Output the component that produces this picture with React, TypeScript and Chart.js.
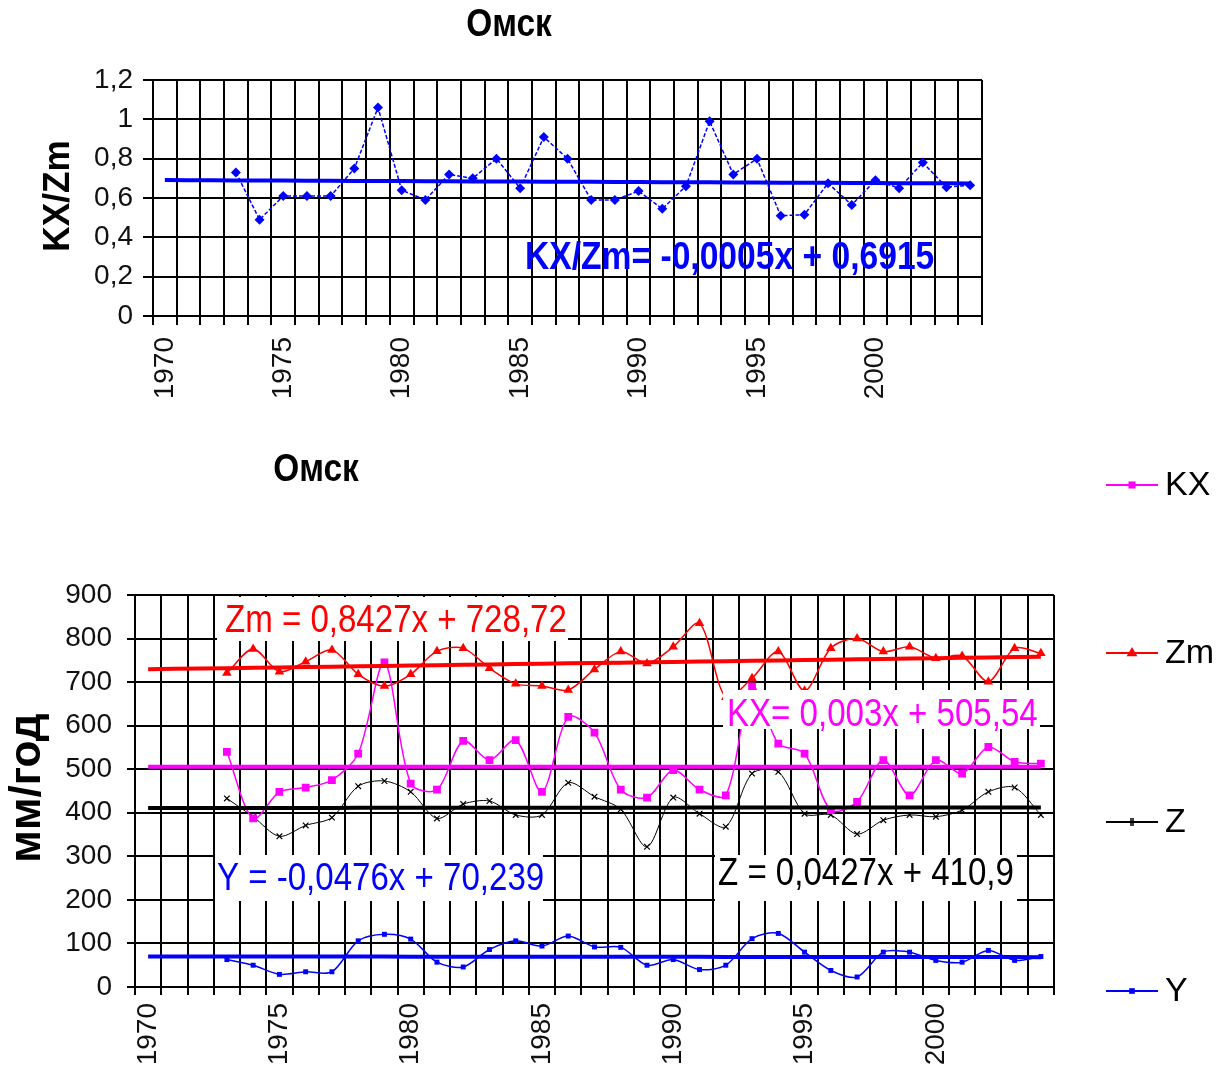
import React, { useEffect, useRef } from 'react';
import { Chart, registerables } from 'chart.js';

Chart.register(...registerables);

const FONT = "'Liberation Sans', Arial, Helvetica, sans-serif";

// ---- data ----
const years = [
  '1970', '1971', '1972', '1973', '1974', '1975', '1976', '1977', '1978', '1979',
  '1980', '1981', '1982', '1983', '1984', '1985', '1986', '1987', '1988', '1989',
  '1990', '1991', '1992', '1993', '1994', '1995', '1996', '1997', '1998', '1999',
  '2000', '2001', '2002', '2003', '2004',
];

const ratioKXZm = [
  null, null, null, 0.73, 0.49, 0.61, 0.61, 0.61, 0.75, 1.06,
  0.64, 0.59, 0.72, 0.70, 0.80, 0.65, 0.91, 0.80, 0.59, 0.59,
  0.635, 0.545, 0.66, 0.99, 0.72, 0.80, 0.51, 0.515, 0.675, 0.565,
  0.69, 0.65, 0.78, 0.655, 0.665,
];

const kx = [
  null, null, null, 540, 387, 448, 458, 475, 536, 745,
  467, 453, 565, 521, 567, 448, 620, 584, 453, 435,
  498, 453, 440, 690, 559, 536, 406, 425, 521, 440,
  521, 490, 551, 517, 513,
];

const zm = [
  null, null, null, 721, 776, 724, 747, 774, 718, 691,
  718, 771, 778, 732, 696, 691, 682, 729, 770, 743,
  781, 835, 665, 709, 770, 680, 778, 800, 770, 781,
  755, 760, 701, 778, 766,
];

const z = [
  null, null, null, 433, 391, 346, 371, 389, 461, 473,
  448, 387, 420, 427, 395, 395, 469, 437, 408, 322,
  435, 398, 368, 490, 494, 398, 395, 351, 383, 395,
  391, 406, 448, 458, 395,
];

const yRunoff = [
  null, null, null, 63, 50, 29, 35, 35, 106, 121,
  110, 57, 46, 86, 106, 94, 117, 92, 91, 50,
  63, 40, 50, 111, 123, 80, 38, 23, 80, 80,
  61, 57, 84, 61, 70,
];

// trend line equations as printed on the chart (x = 1..n)
const ratioTrendCoef = { slope: -0.0005, intercept: 0.6915 };
const kxTrendCoef = { slope: 0.003, intercept: 505.54 };
const zmTrendCoef = { slope: 0.8427, intercept: 728.72 };
const zTrendCoef = { slope: 0.0427, intercept: 410.9 };
const yTrendCoef = { slope: -0.0476, intercept: 70.239 };

const trend = (c: { slope: number; intercept: number }) =>
  years.map((_, i) => c.slope * (i + 1) + c.intercept);

// ---- drawing helpers ----
function drawText(
  ctx: CanvasRenderingContext2D,
  s: string,
  x: number,
  y: number,
  font: string,
  color: string,
  align: CanvasTextAlign = 'left',
  sx = 1,
  rot = 0
) {
  ctx.save();
  ctx.translate(x, y);
  if (rot) ctx.rotate(rot);
  ctx.scale(sx, 1);
  ctx.font = font;
  ctx.fillStyle = color;
  ctx.textAlign = align;
  ctx.textBaseline = 'middle';
  ctx.fillText(s, 0, 0);
  ctx.restore();
}

function drawMarker(ctx: CanvasRenderingContext2D, style: string, x: number, y: number, r: number, color: string) {
  ctx.save();
  ctx.fillStyle = color;
  ctx.strokeStyle = color;
  ctx.lineWidth = 1.5;
  ctx.beginPath();
  if (style === 'rect') {
    const s = r * Math.SQRT1_2;
    ctx.rect(x - s, y - s, 2 * s, 2 * s);
    ctx.fill();
  } else if (style === 'triangle') {
    ctx.moveTo(x, y - r);
    ctx.lineTo(x + r * 0.9, y + r * 0.55);
    ctx.lineTo(x - r * 0.9, y + r * 0.55);
    ctx.closePath();
    ctx.fill();
  } else if (style === 'crossRot') {
    const s = r * 0.8;
    ctx.moveTo(x - 1, y - s);
    ctx.lineTo(x - 1, y + s);
    ctx.moveTo(x + 1, y - s);
    ctx.lineTo(x + 1, y + s);
    ctx.stroke();
  }
  ctx.restore();
}

const fmtComma = (v: number) => String(Math.round(v * 10) / 10).replace('.', ',');

const gridStyle = (tickLength: number) => ({
  color: '#000',
  lineWidth: 2,
  tickLength,
  tickColor: '#000',
  tickWidth: 2,
});

// ---- top chart ----
function topConfig(): any {
  const overlay = {
    id: 'topOverlay',
    afterDatasetsDraw(chart: any) {
      const ctx = chart.ctx as CanvasRenderingContext2D;
      drawText(ctx, 'Омск', 509, 26, `bold 38px ${FONT}`, '#000', 'center', 0.88);
      drawText(ctx, 'KX/Zm', 59, 196, `bold 37px ${FONT}`, '#000', 'center', 0.95, -Math.PI / 2);
      drawText(ctx, 'KX/Zm= -0,0005x + 0,6915', 525, 258, `bold 39px ${FONT}`, '#0000ff', 'left', 0.862);
    },
  };
  return {
    type: 'line',
    data: {
      labels: years,
      datasets: [
        {
          label: 'KX/Zm',
          data: ratioKXZm,
          borderColor: '#0000ff',
          backgroundColor: '#0000ff',
          borderWidth: 1.5,
          borderDash: [4, 2],
          pointStyle: 'rectRot',
          pointRadius: 5,
          pointBorderWidth: 0,
          tension: 0,
          order: 1,
        },
        {
          label: 'trend',
          data: trend(ratioTrendCoef),
          borderColor: '#0000ff',
          borderWidth: 4,
          pointRadius: 0,
          tension: 0,
          order: 0,
        },
      ],
    },
    options: {
      responsive: false,
      animation: false,
      events: [],
      layout: { padding: { left: 0, top: 80, right: 237, bottom: 0 } },
      plugins: { legend: { display: false }, tooltip: { enabled: false }, title: { display: false } },
      scales: {
        x: {
          type: 'category',
          offset: true,
          grid: { ...gridStyle(9), offset: true },
          border: { display: true, color: '#000', width: 2 },
          ticks: {
            autoSkip: false,
            maxRotation: 90,
            minRotation: 90,
            padding: 12,
            color: '#111',
            font: { family: FONT, size: 28 },
            callback: (_v: any, i: number) => (Number(years[i]) % 5 === 0 ? years[i] : ''),
          },
          afterFit: (s: any) => {
            s.height = 114;
          },
        },
        y: {
          min: 0,
          max: 1.2,
          grid: gridStyle(10),
          border: { display: true, color: '#000', width: 2 },
          ticks: {
            stepSize: 0.2,
            padding: 10,
            color: '#111',
            font: { family: FONT, size: 28 },
            callback: (v: any) => fmtComma(Number(v)),
          },
          afterFit: (s: any) => {
            s.width = 153;
          },
        },
      },
    },
    plugins: [overlay],
  };
}

// ---- bottom chart ----
const legendItems = [
  { label: 'KX', color: '#ff00ff', style: 'rect', r: 5, y: 55 },
  { label: 'Zm', color: '#ff0000', style: 'triangle', r: 6, y: 223 },
  { label: 'Z', color: '#000000', style: 'crossRot', r: 5, y: 392 },
  { label: 'Y', color: '#0000ff', style: 'rect', r: 4, y: 561 },
];

const eqLabels = [
  { text: 'Zm = 0,8427x + 728,72', color: '#ff0000', box: [217, 167, 351, 44], tx: 225, ty: 192 },
  { text: 'KX= 0,003x + 505,54', color: '#ff00ff', box: [723, 260, 317, 39], tx: 727, ty: 286 },
  { text: 'Y = -0,0476x + 70,239', color: '#0000ff', box: [215, 425, 328, 46], tx: 217, ty: 450 },
  { text: 'Z = 0,0427x + 410,9', color: '#000000', box: [715, 425, 302, 46], tx: 718, ty: 445 },
];

function bottomConfig(): any {
  const overlay = {
    id: 'bottomOverlay',
    afterDatasetsDraw(chart: any) {
      const ctx = chart.ctx as CanvasRenderingContext2D;
      eqLabels.forEach((l) => {
        ctx.save();
        ctx.fillStyle = '#fff';
        ctx.fillRect(l.box[0], l.box[1], l.box[2], l.box[3]);
        ctx.restore();
        drawText(ctx, l.text, l.tx, l.ty, `38px ${FONT}`, l.color, 'left', 0.87);
      });
      drawText(ctx, 'Омск', 316, 41, `bold 38px ${FONT}`, '#000', 'center', 0.88);
      drawText(ctx, 'мм/год', 28, 358, `bold 44px ${FONT}`, '#000', 'center', 1, -Math.PI / 2);
      legendItems.forEach((it) => {
        ctx.save();
        ctx.strokeStyle = it.color;
        ctx.lineWidth = 2;
        ctx.beginPath();
        ctx.moveTo(1106, it.y);
        ctx.lineTo(1158, it.y);
        ctx.stroke();
        ctx.restore();
        drawMarker(ctx, it.style, 1132, it.y, it.r, it.color);
        drawText(ctx, it.label, 1165, it.y + 1, `34px ${FONT}`, '#000', 'left');
      });
    },
  };
  const series = (label: string, data: any[], color: string, pointStyle: string, r: number, width: number, extra: any = {}) => ({
    label,
    data,
    borderColor: color,
    backgroundColor: color,
    borderWidth: width,
    pointStyle,
    pointRadius: r,
    pointBorderWidth: 0,
    tension: 0.3,
    order: 1,
    ...extra,
  });
  const trendSet = (label: string, data: number[], color: string) => ({
    label,
    data,
    borderColor: color,
    borderWidth: 4,
    pointRadius: 0,
    tension: 0,
    order: 0,
  });
  return {
    type: 'line',
    data: {
      labels: years,
      datasets: [
        series('KX', kx, '#ff00ff', 'rect', 5.5, 1.5),
        series('Zm', zm, '#ff0000', 'triangle', 5.5, 1.5),
        series('Z', z, '#000000', 'crossRot', 4, 1, { pointBorderWidth: 1.2 }),
        series('Y', yRunoff, '#0000ff', 'rect', 3.5, 1.5),
        trendSet('KX trend', trend(kxTrendCoef), '#ff00ff'),
        trendSet('Zm trend', trend(zmTrendCoef), '#ff0000'),
        trendSet('Z trend', trend(zTrendCoef), '#000000'),
        trendSet('Y trend', trend(yTrendCoef), '#0000ff'),
      ],
    },
    options: {
      responsive: false,
      animation: false,
      events: [],
      layout: { padding: { left: 0, top: 165, right: 165, bottom: 0 } },
      plugins: { legend: { display: false }, tooltip: { enabled: false }, title: { display: false } },
      scales: {
        x: {
          type: 'category',
          offset: true,
          grid: { ...gridStyle(8), offset: true },
          border: { display: true, color: '#000', width: 2 },
          ticks: {
            autoSkip: false,
            maxRotation: 90,
            minRotation: 90,
            padding: 8,
            color: '#111',
            font: { family: FONT, size: 28 },
            callback: (_v: any, i: number) => (Number(years[i]) % 5 === 0 ? years[i] : ''),
          },
          afterFit: (s: any) => {
            s.height = 96;
          },
        },
        y: {
          min: 0,
          max: 900,
          grid: gridStyle(8),
          border: { display: true, color: '#000', width: 2 },
          ticks: {
            stepSize: 100,
            padding: 15,
            color: '#111',
            font: { family: FONT, size: 28 },
          },
          afterFit: (s: any) => {
            s.width = 135;
          },
        },
      },
    },
    plugins: [overlay],
  };
}

function ChartCanvas({ make, width, height, top }: { make: () => any; width: number; height: number; top: number }) {
  const ref = useRef<HTMLCanvasElement | null>(null);
  useEffect(() => {
    if (!ref.current) return;
    const chart = new Chart(ref.current, make());
    return () => chart.destroy();
  }, [make]);
  return (
    <canvas
      ref={ref}
      width={width}
      height={height}
      style={{ position: 'absolute', left: 0, top, width, height, display: 'block' }}
    />
  );
}

export default function App() {
  return (
    <div style={{ position: 'absolute', left: 0, top: 0, width: 1219, height: 1083, background: '#fff', overflow: 'hidden' }}>
      <ChartCanvas make={topConfig} width={1219} height={430} top={0} />
      <ChartCanvas make={bottomConfig} width={1219} height={653} top={430} />
    </div>
  );
}
